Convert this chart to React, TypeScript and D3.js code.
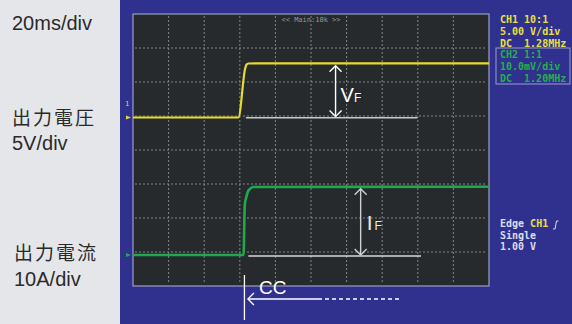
import React from "react";
import * as d3 from "d3";

// time axis: 20 ms/div, 10 divisions
const timeTicks = d3.range(0, 201, 20);
// vertical: 8 divisions
const divTicks = d3.range(-4, 5, 1);

// CH1 output voltage (V), 5 V/div
const ch1Time = [0, 59.2, 63.0, 63.7, 64.8, 70, 200];
const ch1Volt = [0, 0, 7.2, 7.76, 7.94, 7.96, 7.96];

// CH2 output current (A), 10 A/div
const ch2Time = [0, 62.1, 62.8, 63.7, 65.0, 67.6, 200];
const ch2Amp = [0, 0, 14.7, 17.1, 19.1, 20.0, 20.1];

const ch1Offset = 0.956; // divisions above center
const ch2Offset = -3.09;

const leftLabels = [
  { text: "20ms/div", y: 30 },
  { text: "出力電圧", y: 125 },
  { text: "5V/div", y: 150 },
  { text: "出力電流", y: 260 },
  { text: "10A/div", y: 286 },
];

const ch1Info = ["CH1 10:1", "5.00 V/div", "DC  1.28MHz"];
const ch2Info = ["CH2 1:1", "10.0mV/div", "DC  1.20MHz"];

const W = 572;
const H = 324;
const plot = { left: 133, right: 489, top: 14, bottom: 286 };

export default function App() {
  const x = d3.scaleLinear().domain([0, 200]).range([plot.left, plot.right]);
  const yDiv = d3.scaleLinear().domain([-4, 4]).range([plot.bottom, plot.top]);
  const yV = (v: number) => yDiv(ch1Offset + v / 5);
  const yA = (a: number) => yDiv(ch2Offset + a / 10);

  const ch1Line = d3
    .line<number>()
    .x((_, i) => x(ch1Time[i]))
    .y((d) => yV(d))
    .curve(d3.curveMonotoneX)(ch1Volt);
  const ch2Line = d3
    .line<number>()
    .x((_, i) => x(ch2Time[i]))
    .y((d) => yA(d))
    .curve(d3.curveMonotoneX)(ch2Amp);

  const mono = "'DejaVu Sans Mono', monospace";
  const sans = "'Liberation Sans', Arial, sans-serif";
  const cjk = "'Noto Sans CJK JP', sans-serif";

  // annotation anchors
  const vfX = x(113.8);
  const ifX = x(127.9);
  const ccX = x(62.6);

  const chevron = (cx: number, cy: number, dir: "up" | "down" | "left") => {
    const s = 6;
    if (dir === "up") return `M${cx - s},${cy + s} L${cx},${cy} L${cx + s},${cy + s}`;
    if (dir === "down") return `M${cx - s},${cy - s} L${cx},${cy} L${cx + s},${cy - s}`;
    return `M${cx + s},${cy - s} L${cx},${cy} L${cx + s},${cy + s}`;
  };

  return (
    <svg width={W} height={H} style={{ position: "absolute", left: 0, top: 0 }}>
      <rect x={0} y={0} width={120} height={H} fill="#e5e6ea" />
      <rect x={120} y={0} width={W - 120} height={H} fill="#30308f" />

      {leftLabels.map((d) => (
        <text
          key={d.text}
          x={d.text.startsWith("10A") || d.text === "出力電流" ? 14 : 12}
          y={d.y}
          fontSize={d.text.includes("出") ? 19 : 20}
          fontFamily={d.text.includes("出") ? cjk : sans}
          fill="#2a2a2a"
          textLength={d.text.includes("出") ? 82 : undefined}
        >
          {d.text}
        </text>
      ))}

      {/* screen */}
      <rect
        x={plot.left}
        y={plot.top}
        width={plot.right - plot.left}
        height={plot.bottom - plot.top}
        fill="#262a2d"
        stroke="#9a9ec4"
        strokeWidth={1.2}
      />
      <g stroke="#80858a" strokeWidth={1} strokeDasharray="2,2">
        {timeTicks.slice(1, -1).map((t) => (
          <line key={"v" + t} x1={x(t)} x2={x(t)} y1={plot.top + 2} y2={plot.bottom - 2} />
        ))}
        {divTicks.slice(1, -1).map((d) => (
          <line key={"h" + d} x1={plot.left + 2} x2={plot.right - 2} y1={yDiv(d)} y2={yDiv(d)} />
        ))}
      </g>
      <text x={x(100)} y={22} textAnchor="middle" fontFamily={mono} fontSize={7} fill="#9a9a9a">
        {"<< Main:10k >>"}
      </text>

      {/* channel markers */}
      <text x={125} y={106} fontFamily={mono} fontSize={7} fill="#e0d840">1</text>
      <path d={`M126,${yV(0) - 2} l5,2 l-5,2 z`} fill="#e0d840" />
      <path d={`M126,${yA(0) - 2} l5,2 l-5,2 z`} fill="#1faa4a" />

      {/* traces */}
      <path d={ch1Line ?? ""} fill="none" stroke="#e6dc2c" strokeWidth={2.2} />
      <path d={ch2Line ?? ""} fill="none" stroke="#1fa84c" strokeWidth={2.6} />

      {/* VF annotation */}
      <g stroke="#e0e0e0" fill="none" strokeWidth={1.4}>
        <line x1={x(63.4)} x2={x(159.8)} y1={yV(0) + 0.3} y2={yV(0) + 0.3} stroke="#c8c8c8" />
        <line x1={vfX} x2={vfX} y1={yV(7.9) + 2} y2={yV(0) - 1} stroke="#ffffff" />
        <path d={chevron(vfX, yV(7.9) + 2, "up")} stroke="#ffffff" />
        <path d={chevron(vfX, yV(0) - 1, "down")} stroke="#ffffff" />
      </g>
      <text x={vfX + 5} y={101.5} fill="#ffffff" fontFamily={sans}>
        <tspan fontSize={20}>V</tspan>
        <tspan fontSize={12}>F</tspan>
      </text>

      {/* IF annotation */}
      <g stroke="#e0e0e0" fill="none" strokeWidth={1.4}>
        <line x1={x(64.8)} x2={x(161.8)} y1={yA(0) + 1} y2={yA(0) + 1} stroke="#d8d8d8" />
        <line x1={ifX} x2={ifX} y1={yA(20.1) + 2} y2={yA(0)} stroke="#cfcfcf" />
        <path d={chevron(ifX, yA(20.1) + 2, "up")} stroke="#cfcfcf" />
        <path d={chevron(ifX, yA(0), "down")} stroke="#cfcfcf" />
      </g>
      <text x={ifX + 6} y={230} fill="#e8e8e8" fontFamily={sans}>
        <tspan fontSize={21}>I</tspan>
        <tspan fontSize={12} dx={2}>F</tspan>
      </text>

      {/* CC annotation */}
      <g stroke="#ffffff" fill="none" strokeWidth={1.3}>
        <line x1={ccX} x2={ccX} y1={275} y2={320} />
        <path d={chevron(ccX + 3.5, 299, "left")} />
        <line x1={ccX + 3.5} x2={318} y1={299} y2={299} />
        <line x1={318} x2={400} y1={299} y2={299} strokeDasharray="4,3" />
      </g>
      <text x={259} y={294} fill="#ffffff" fontFamily={sans} fontSize={19}>
        CC
      </text>

      {/* right info panel */}
      {ch1Info.map((s, i) => (
        <text key={s} x={500} y={23 + i * 12} fontFamily={mono} fontSize={10} fontWeight={600} fill="#e8e040" xmlSpace="preserve">
          {s}
        </text>
      ))}
      <rect x={496} y={48} width={74} height={36} fill="none" stroke="#9c9cd0" strokeWidth={1} />
      {ch2Info.map((s, i) => (
        <text key={s} x={500} y={58 + i * 12} fontFamily={mono} fontSize={10} fontWeight={600} fill="#22b04a" xmlSpace="preserve">
          {s}
        </text>
      ))}
      <text x={500} y={227} fontFamily={mono} fontSize={10} fontWeight={600} fill="#dcdcf0" xmlSpace="preserve">
        {"Edge "}
        <tspan fill="#e8e040">CH1</tspan>
      </text>
      <path d="M553,229 l2,0 l1.5,-8 l2,0" fill="none" stroke="#dcdcf0" strokeWidth={1} />
      <text x={500} y={239} fontFamily={mono} fontSize={10} fontWeight={600} fill="#dcdcf0">
        Single
      </text>
      <text x={500} y={250} fontFamily={mono} fontSize={10} fontWeight={600} fill="#dcdcf0" xmlSpace="preserve">
        1.00 V
      </text>
    </svg>
  );
}
